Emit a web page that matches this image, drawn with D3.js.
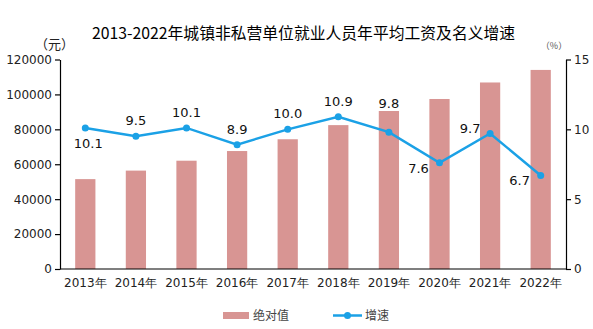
<!DOCTYPE html>
<html>
<head>
<meta charset="utf-8">
<script src="https://cdn.jsdelivr.net/npm/d3@7"></script>
<style>
  body { margin: 0; background: #fff; }
  svg { display: block; }
</style>
</head>
<body>
<div id="chart"></div>
<script>
// chart data
const years = ['2013年', '2014年', '2015年', '2016年', '2017年', '2018年', '2019年', '2020年', '2021年', '2022年'];
const wages = [51483, 56360, 62029, 67569, 74318, 82413, 90501, 97379, 106837, 114029];
const growth = [10.1, 9.5, 10.1, 8.9, 10.0, 10.9, 9.8, 7.6, 9.7, 6.7];
const labelSide = ['below', 'above', 'above', 'above', 'above', 'above', 'high', 'leftBelow', 'leftAbove', 'leftBelow'];
const leftTicks = [0, 20000, 40000, 60000, 80000, 100000, 120000];
const rightTicks = [0, 5, 10, 15];

const W = 593, H = 329;
const plotLeft = 60, plotRight = 566, plotTop = 59.5, plotBottom = 269;
const barColor = '#d89593', lineColor = '#1ba1e6';
const numFont = 'DejaVu Sans';
const cjkFont = '"Noto Sans CJK SC", sans-serif';

const svg = d3.select('#chart').append('svg')
    .attr('width', W)
    .attr('height', H);

const x = d3.scaleBand()
    .domain(years)
    .range([plotLeft, plotRight])
    .paddingInner(0.6)
    .paddingOuter(0.3);

const yL = d3.scaleLinear().domain([0, 120000]).range([plotBottom, plotTop]);
const yR = d3.scaleLinear().domain([0, 15]).range([plotBottom, plotTop]);

// title
svg.append('text')
    .attr('x', 303.5)
    .attr('y', 38.5)
    .attr('text-anchor', 'middle')
    .style('font-family', cjkFont)
    .style('font-size', '15.8px')
    .style('font-weight', 400)
    .attr('fill', '#000')
    .text('2013-2022年城镇非私营单位就业人员年平均工资及名义增速');

// unit labels
svg.append('text')
    .attr('x', 54.5)
    .attr('y', 49)
    .attr('text-anchor', 'middle')
    .style('font-family', cjkFont)
    .style('font-size', '13px')
    .attr('fill', '#222')
    .text('（元）');

svg.append('text')
    .attr('x', 554)
    .attr('y', 49)
    .attr('text-anchor', 'middle')
    .style('font-family', cjkFont)
    .style('font-size', '9px')
    .attr('fill', '#555')
    .text('（%）');

// bars
svg.append('g').selectAll('rect')
    .data(wages)
    .enter()
    .append('rect')
    .attr('x', (d, i) => x(years[i]))
    .attr('width', x.bandwidth())
    .attr('y', d => yL(d))
    .attr('height', d => plotBottom - yL(d))
    .attr('fill', barColor);

// axes
let axisL = svg.append('g')
    .attr('transform', `translate(${plotLeft},0)`)
    .call(d3.axisLeft(yL).tickValues(leftTicks).tickSize(5).tickPadding(3).tickSizeOuter(0).tickFormat(d3.format('d')));

let axisR = svg.append('g')
    .attr('transform', `translate(${plotRight},0)`)
    .call(d3.axisRight(yR).tickValues(rightTicks).tickSize(5).tickPadding(3).tickSizeOuter(0));

let axisB = svg.append('g')
    .attr('transform', `translate(0,${plotBottom})`)
    .call(d3.axisBottom(x).tickSize(0).tickPadding(9).tickSizeOuter(0));

[axisL, axisR, axisB].forEach(function(a){
    a.selectAll('path, line').attr('stroke', '#000').attr('stroke-width', 1.2);
    a.selectAll('text')
        .attr('fill', '#222')
        .style('font-family', numFont)
        .style('font-size', '12px');
});
axisB.select('.domain').attr('d', `M${plotLeft},0H${plotRight}`);

// growth line
const line = d3.line()
    .x((d, i) => x(years[i]) + x.bandwidth() / 2)
    .y(d => yR(d));

svg.append('path')
    .datum(growth)
    .attr('d', line)
    .attr('fill', 'none')
    .attr('stroke', lineColor)
    .attr('stroke-width', 2.5);

svg.append('g').selectAll('circle')
    .data(growth)
    .enter()
    .append('circle')
    .attr('cx', (d, i) => x(years[i]) + x.bandwidth() / 2)
    .attr('cy', d => yR(d))
    .attr('r', 3.5)
    .attr('fill', lineColor);

// value labels, placed by side
function labelOffset(side){
    if (side === 'below') return [3, 20];
    if (side === 'above') return [0, -11];
    if (side === 'high') return [0, -24];
    if (side === 'leftBelow') return [-21, 10];
    if (side === 'leftAbove') return [-20, -1];
    return [0, 0];
}

svg.append('g').selectAll('text')
    .data(growth)
    .enter()
    .append('text')
    .attr('x', (d, i) => x(years[i]) + x.bandwidth() / 2 + labelOffset(labelSide[i])[0])
    .attr('y', (d, i) => yR(d) + labelOffset(labelSide[i])[1])
    .attr('text-anchor', 'middle')
    .style('font-family', numFont)
    .style('font-size', '13px')
    .attr('fill', '#111')
    .text(d => d.toFixed(1));

// legend
const legend = svg.append('g');
legend.append('rect')
    .attr('x', 223).attr('y', 312)
    .attr('width', 26).attr('height', 7)
    .attr('fill', barColor);
legend.append('text')
    .attr('x', 253).attr('y', 320)
    .style('font-family', cjkFont)
    .style('font-size', '12px')
    .attr('fill', '#444')
    .text('绝对值');
legend.append('line')
    .attr('x1', 333).attr('x2', 362)
    .attr('y1', 315.5).attr('y2', 315.5)
    .attr('stroke', lineColor)
    .attr('stroke-width', 2.5);
legend.append('circle')
    .attr('cx', 347.5).attr('cy', 315.5)
    .attr('r', 3.5)
    .attr('fill', lineColor);
legend.append('text')
    .attr('x', 365).attr('y', 320)
    .style('font-family', cjkFont)
    .style('font-size', '12px')
    .attr('fill', '#444')
    .text('增速');
</script>
</body>
</html>
